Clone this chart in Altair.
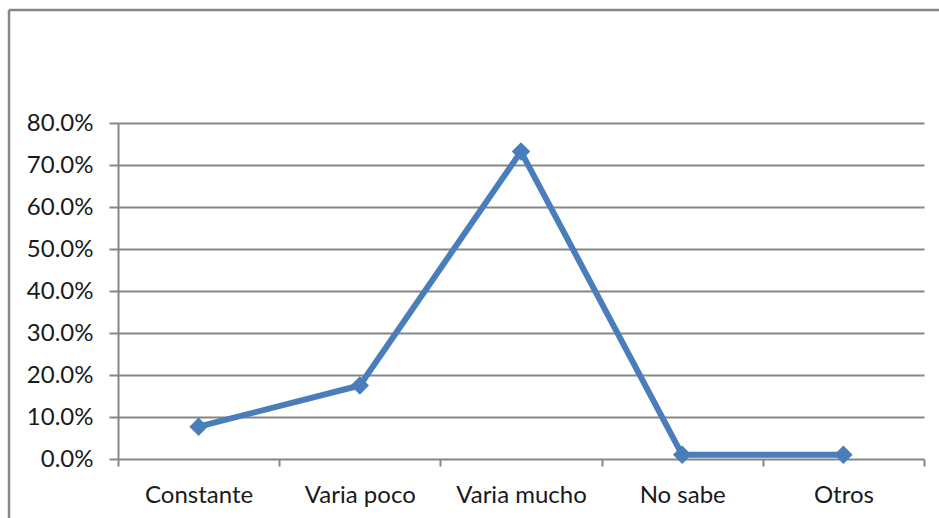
import altair as alt
import pandas as pd

# Survey responses and their share of the total
categories = ["Constante", "Varia poco", "Varia mucho", "No sabe", "Otros"]
shares = [0.077, 0.175, 0.732, 0.010, 0.010]

df = pd.DataFrame({"categoria": categories, "porcentaje": shares})

FONT = "Lato"
GRAY = "#868686"
BLUE = "#4A7EBB"

x_enc = alt.X(
    "categoria:N",
    sort=categories,
    title=None,
    scale=alt.Scale(type="band", paddingInner=0, paddingOuter=0),
    axis=alt.Axis(
        labelAngle=0,
        tickBand="extent",
        tickSize=7,
        tickWidth=2,
        tickColor=GRAY,
        domain=False,
        grid=False,
        labelPadding=17,
        labelFont=FONT,
        labelFontSize=24,
        labelColor="#1a1a1a",
    ),
)
y_enc = alt.Y(
    "porcentaje:Q",
    title=None,
    scale=alt.Scale(domain=[0, 0.8], nice=False),
    axis=alt.Axis(
        values=[i / 10 for i in range(9)],
        format=".1%",
        tickSize=9,
        tickWidth=2,
        tickColor=GRAY,
        domainColor=GRAY,
        domainWidth=2,
        gridColor=GRAY,
        gridWidth=2,
        gridOpacity=1,
        labelPadding=16,
        labelFont=FONT,
        labelFontSize=24,
        labelColor="#1a1a1a",
    ),
)

line = alt.Chart(df).mark_line(
    color=BLUE,
    strokeWidth=6,
    strokeJoin="round",
    point=alt.OverlayMarkDef(shape="diamond", size=340, filled=True, color=BLUE, opacity=1),
).encode(x=x_enc, y=y_enc)

# Outer frame of the chart area
frame_src = alt.Chart(pd.DataFrame({"k": [0]}))
frame_left = frame_src.mark_rule(color=GRAY, strokeWidth=2.5).encode(
    x=alt.value(-109), y=alt.value(-113), y2=alt.value(420)
)
frame_top = frame_src.mark_rule(color=GRAY, strokeWidth=2.5).encode(
    x=alt.value(-109), x2=alt.value(840), y=alt.value(-113)
)

chart = (
    alt.layer(line, frame_left, frame_top)
    .properties(
        width=806,
        height=336,
        autosize=alt.AutoSizeParams(type="none"),
        padding={"left": 118, "top": 123, "right": 15, "bottom": 59},
        background="white",
    )
    .configure_view(stroke=None)
)

chart.save("out.html", embed_options={"renderer": "svg", "actions": False})
